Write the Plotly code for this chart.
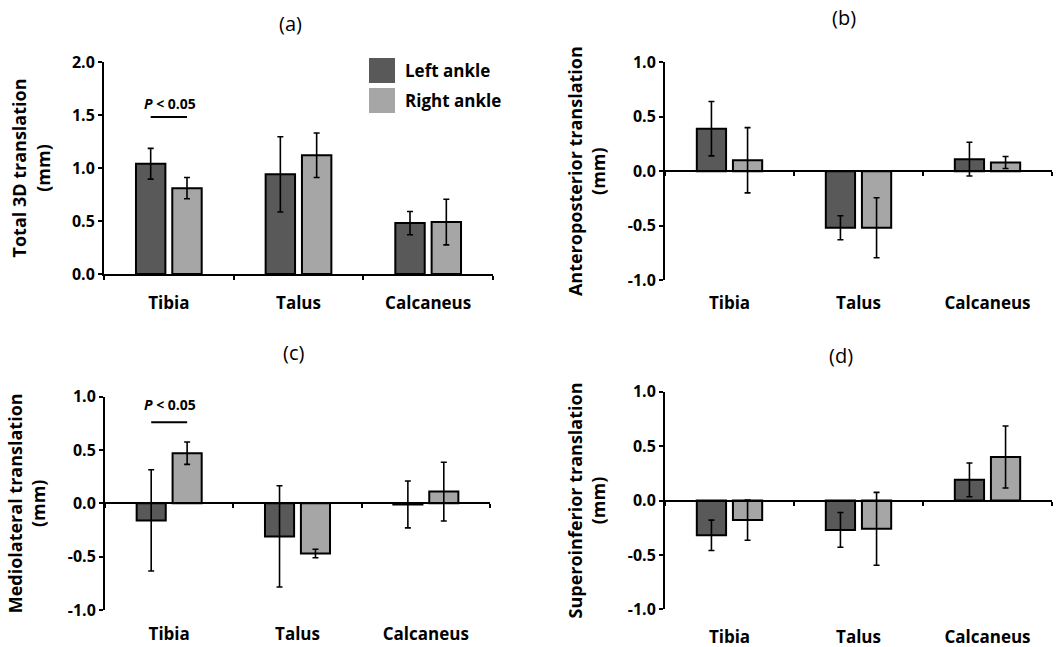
import plotly.graph_objects as go

categories = ["Tibia", "Talus", "Calcaneus"]
series_names = ["Left ankle", "Right ankle"]
panel_letters = ["(a)", "(b)", "(c)", "(d)"]
y_titles = ["Total 3D translation<br>(mm)", "Anteroposterior translation<br>(mm)",
            "Mediolateral translation<br>(mm)", "Superoinferior translation<br>(mm)"]

a_left = [1.04, 0.94, 0.48]
a_left_err = [0.145, 0.355, 0.11]
a_right = [0.81, 1.12, 0.49]
a_right_err = [0.10, 0.21, 0.215]

b_left = [0.39, -0.52, 0.11]
b_left_err = [0.25, 0.11, 0.155]
b_right = [0.10, -0.52, 0.08]
b_right_err = [0.30, 0.275, 0.055]

c_left = [-0.16, -0.31, -0.01]
c_left_err = [0.475, 0.475, 0.22]
c_right = [0.47, -0.47, 0.11]
c_right_err = [0.105, 0.04, 0.275]

d_left = [-0.32, -0.27, 0.19]
d_left_err = [0.14, 0.16, 0.155]
d_right = [-0.18, -0.26, 0.40]
d_right_err = [0.185, 0.335, 0.285]

tick_vals_a = [0.0, 0.5, 1.0, 1.5, 2.0]
tick_text_a = ["0.0", "0.5", "1.0", "1.5", "2.0"]
tick_vals_bcd = [-1.0, -0.5, 0.0, 0.5, 1.0]
tick_text_bcd = ["-1.0", "-0.5", "0.0", "0.5", "1.0"]

DARK = "#595959"
LIGHT = "#a6a6a6"
FONT = "Open Sans"
W, H = 1062, 647

panels = [
    (a_left, a_left_err, a_right, a_right_err),
    (b_left, b_left_err, b_right, b_right_err),
    (c_left, c_left_err, c_right, c_right_err),
    (d_left, d_left_err, d_right, d_right_err),
]

# pixel boxes: (x0, x1, ytop, ybottom)
boxes = [(104, 493, 62, 274), (665, 1052, 62.3, 280), (105, 490, 396.7, 610), (665, 1052, 391.7, 609.3)]

fig = go.Figure()
for i, (l, le, r, re_) in enumerate(panels):
    xa = "x" if i == 0 else f"x{i+1}"
    ya = "y" if i == 0 else f"y{i+1}"
    for vals, errs, color, name in [(l, le, DARK, series_names[0]), (r, re_, LIGHT, series_names[1])]:
        fig.add_trace(go.Bar(
            x=categories, y=vals, name=name, xaxis=xa, yaxis=ya,
            marker=dict(color=color, line=dict(color="black", width=2)),
            error_y=dict(type="data", array=errs, color="black", thickness=1.6, width=3),
            showlegend=False,
        ))

layout = dict(
    width=W, height=H, margin=dict(l=0, r=0, t=0, b=0, autoexpand=False),
    paper_bgcolor="white", plot_bgcolor="white",
    barmode="group", bargap=0.44, bargroupgap=0.19,
    font=dict(family=FONT, color="black"),
)

label_standoff = [13, 116, 115, 121]
for i, (x0, x1, yt, yb) in enumerate(boxes):
    xk = "xaxis" if i == 0 else f"xaxis{i+1}"
    yk = "yaxis" if i == 0 else f"yaxis{i+1}"
    ydom = [1 - yb / H, 1 - yt / H]
    ya_ref = "y" if i == 0 else f"y{i+1}"
    xa_ref = "x" if i == 0 else f"x{i+1}"
    xdict = dict(
        domain=[x0 / W, x1 / W], range=[-0.5, 2.5], type="category", automargin=False,
        showline=True, linecolor="black", linewidth=2, showgrid=False, zeroline=False,
        ticks="outside", tickson="boundaries", ticklen=4, tickwidth=2, tickcolor="black",
        tickfont=dict(family=FONT, size=17, color="black", weight="bold"),
        ticklabelstandoff=label_standoff[i], fixedrange=True,
    )
    if i == 0:
        xdict["anchor"] = ya_ref
    else:
        xdict["anchor"] = "free"
        xdict["position"] = (ydom[0] + ydom[1]) / 2
    ydict = dict(
        domain=ydom, anchor=xa_ref, automargin=False,
        range=[0, 2] if i == 0 else [-1, 1],
        tickvals=tick_vals_a if i == 0 else tick_vals_bcd,
        ticktext=tick_text_a if i == 0 else tick_text_bcd,
        showline=True, linecolor="black", linewidth=2, showgrid=False, zeroline=False,
        ticks="outside", ticklen=4, tickwidth=2, tickcolor="black",
        tickfont=dict(family=FONT, size=16, color="black", weight="bold"),
        title=dict(text=y_titles[i], font=dict(family=FONT, size=18, color="black", weight="bold"),
                   standoff=17),
        fixedrange=True,
    )
    layout[xk] = xdict
    layout[yk] = ydict

fig.update_layout(**layout)

# panel letters
letter_pos = [(291, 23), (844, 18), (293, 352), (841, 355)]
for txt, (px, py) in zip(panel_letters, letter_pos):
    fig.add_annotation(text=txt, xref="paper", yref="paper", x=px / W, y=1 - py / H,
                       xanchor="center", yanchor="middle",
                       showarrow=False, font=dict(family=FONT, size=20, color="black"))

# significance markers (a) and (c)
for xr, yr, ytxt, yline in [("x", "y", 1.61, 1.48), ("x3", "y3", 0.93, 0.76)]:
    fig.add_annotation(text="<i>P</i> < 0.05", xref=xr, yref=yr, x=0.01, y=ytxt, showarrow=False,
                       xanchor="center", yanchor="middle",
                       font=dict(family=FONT, size=14, color="black", weight="bold"))
    fig.add_shape(type="line", xref=xr, yref=yr, x0=-0.14, x1=0.14, y0=yline, y1=yline,
                  line=dict(color="black", width=2))

# legend
leg_boxes = [(58, 83, DARK), (88, 113, LIGHT)]
for (yt, yb, col), name in zip(leg_boxes, series_names):
    fig.add_shape(type="rect", xref="paper", yref="paper", x0=369 / W, x1=395 / W,
                  y0=1 - yb / H, y1=1 - yt / H, fillcolor=col, line=dict(width=0))
    fig.add_annotation(text=name, xref="paper", yref="paper", x=403 / W, y=1 - (yt + yb) / 2 / H,
                       xanchor="left", yanchor="middle", showarrow=False,
                       font=dict(family=FONT, size=17, color="black", weight="bold"))

fig.write_html("out.html")
